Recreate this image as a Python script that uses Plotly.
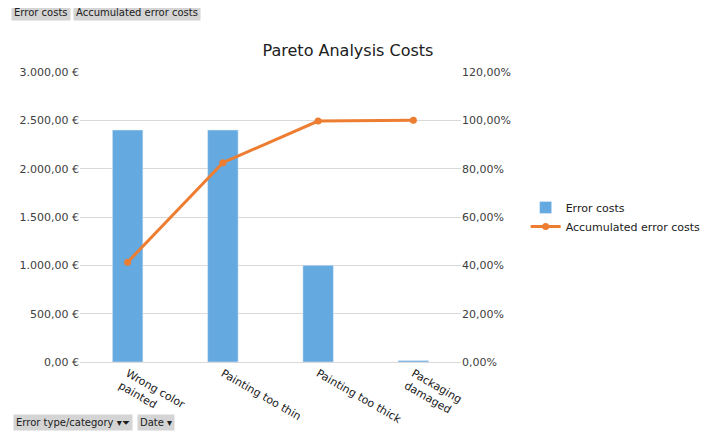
import plotly.graph_objects as go

categories = ["Wrong color<br>painted", "Painting too thin", "Painting too thick", "Packaging<br>damaged"]
error_costs = [2400, 2400, 1000, 15]
accumulated = [41.3, 82.5, 99.7, 100.0]
left_ticks = [0, 500, 1000, 1500, 2000, 2500, 3000]
left_labels = ["0,00 €", "500,00 €", "1.000,00 €", "1.500,00 €", "2.000,00 €", "2.500,00 €", "3.000,00 €"]
right_ticks = [0, 20, 40, 60, 80, 100, 120]
right_labels = ["0,00%", "20,00%", "40,00%", "60,00%", "80,00%", "100,00%", "120,00%"]

OX, OY = 8, 8  # page offset of rendering
L, T, W, H = 75 - OX, 72 - OY, 395, 290

fig = go.Figure()
fig.add_trace(go.Bar(x=categories, y=error_costs, name="Error costs", marker_color="#64a9e0", width=0.32))
fig.add_trace(go.Scatter(x=categories, y=accumulated, name="Accumulated error costs", yaxis="y2",
                         mode="lines+markers", line=dict(color="#ed7d31", width=3),
                         marker=dict(size=7, color="#ed7d31")))
fig.update_layout(
    width=710, height=436, paper_bgcolor="white", plot_bgcolor="white",
    font=dict(family="DejaVu Sans", size=11, color="#404040"),
    margin=dict(l=L, r=710 - L - W, t=T, b=436 - T - H),
    title=dict(text="Pareto Analysis Costs", x=(348 - OX) / 710, xanchor="center", y=1 - (50 - OY) / 436,
               yanchor="middle", font=dict(size=16, color="#202020")),
    xaxis=dict(showline=True, linecolor="#d9d9d9", tickfont=dict(size=11, color="#202020")),
    yaxis=dict(range=[0, 3000], tickvals=left_ticks, ticktext=left_labels, gridcolor="#d9d9d9",
               zeroline=False, tickfont=dict(size=11, color="#404040")),
    yaxis2=dict(range=[0, 120], tickvals=right_ticks, ticktext=right_labels, overlaying="y", side="right",
                showgrid=False, zeroline=False, tickfont=dict(size=11, color="#404040")),
    legend=dict(x=(537 - OX - L) / W, y=0.5, xanchor="left", yanchor="middle",
                font=dict(size=11, color="#202020"), tracegroupgap=8),
    bargap=0.6,
)
for text, x, y in [("Error costs", 3, 12), ("Accumulated error costs", 68, 12),
                   ("Error type/category ▾⏷", 6, 422), ("Date ▾", 134, 422)]:
    fig.add_annotation(text=text, xref="paper", yref="paper", x=(x - OX - L) / W, y=1 - (y - OY - T) / H,
                       xanchor="left", yanchor="middle", showarrow=False, bgcolor="#d4d4d4",
                       font=dict(size=10, color="#202020"), borderpad=2)
fig.write_html("out.html")
